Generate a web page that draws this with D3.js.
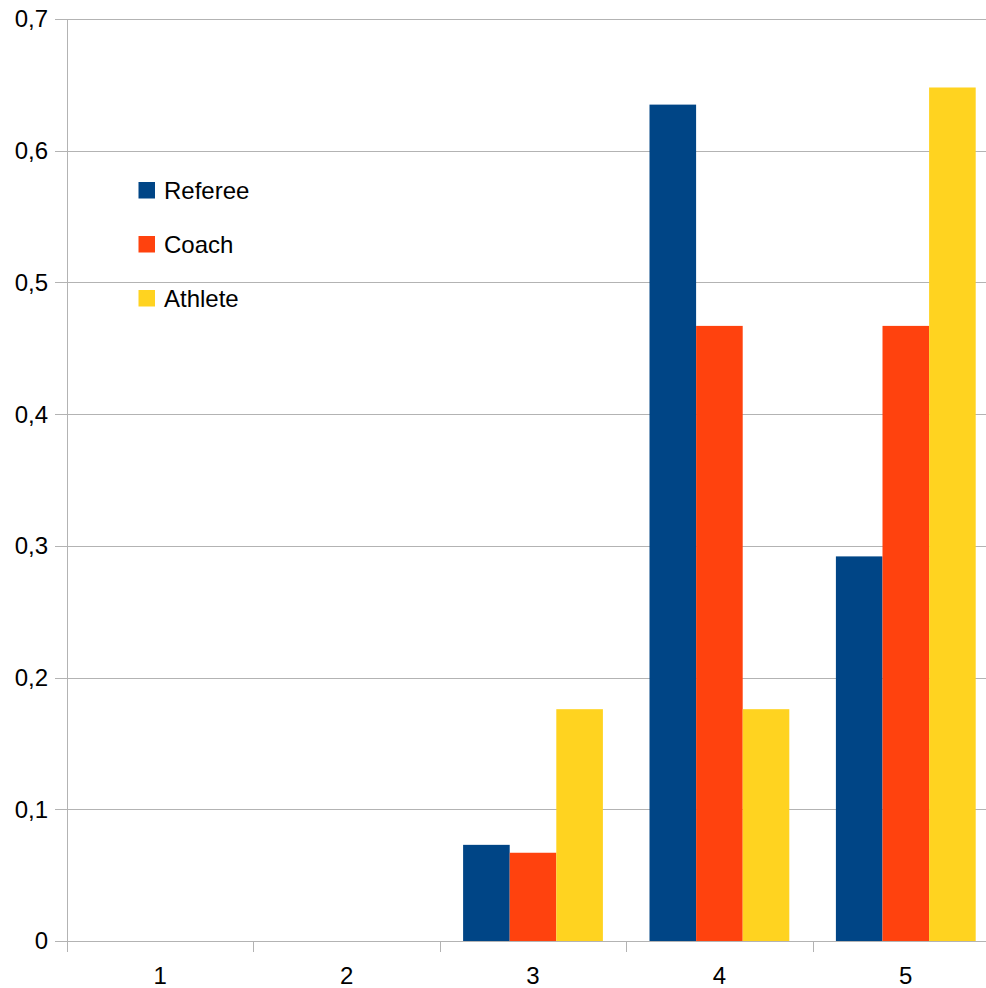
<!DOCTYPE html>
<html><head><meta charset="utf-8">
<script src="https://cdn.jsdelivr.net/npm/d3@7"></script>
<style>html,body{margin:0;padding:0;background:#fff;overflow:hidden}</style>
</head><body>
<svg id="c" width="986" height="988"></svg>
<script>
const categories = ["1","2","3","4","5"];
const seriesNames = ["Referee","Coach","Athlete"];
const referee = [0, 0, 0.073, 0.635, 0.292];
const coach   = [0, 0, 0.067, 0.467, 0.467];
const athlete = [0, 0, 0.176, 0.176, 0.648];
const yTicks = [0,0.1,0.2,0.3,0.4,0.5,0.6,0.7];
const colors = ["#004586","#ff420e","#ffd320"];

const series = [referee, coach, athlete];
const svg = d3.select("#c");
const L = 67, R = 999, T = 19, B = 941;
const font = "'Liberation Sans', Arial, sans-serif";

const x = d3.scaleBand().domain(categories).range([L, R]).paddingInner(0).paddingOuter(0);
const inner = d3.scaleBand().domain(seriesNames).range([0, x.bandwidth()]).paddingInner(0).paddingOuter(0.5);
const y = d3.scaleLinear().domain([0, 0.7]).range([B, T]);

// gridlines
svg.append("g").selectAll("line").data(yTicks).join("line")
  .attr("x1", L - 12).attr("x2", R)
  .attr("y1", d => Math.round(y(d)) + 0.5).attr("y2", d => Math.round(y(d)) + 0.5)
  .attr("stroke", "#b3b3b3").attr("stroke-width", 1);

// y axis line
svg.append("line").attr("x1", L + 0.5).attr("x2", L + 0.5).attr("y1", T).attr("y2", B + 11)
  .attr("stroke", "#b3b3b3");

// category ticks
svg.append("g").selectAll("line").data(categories.slice(1).concat(["end"])).join("line")
  .attr("x1", (d,i) => Math.round(L + (i+1)*x.step()) + 0.5)
  .attr("x2", (d,i) => Math.round(L + (i+1)*x.step()) + 0.5)
  .attr("y1", B).attr("y2", B + 11).attr("stroke", "#b3b3b3");

// bars
seriesNames.forEach((s, si) => {
  svg.append("g").selectAll("rect").data(series[si]).join("rect")
    .attr("x", (d,i) => x(categories[i]) + inner(s))
    .attr("width", inner.bandwidth())
    .attr("y", d => y(d))
    .attr("height", d => B - y(d))
    .attr("fill", colors[si]);
});

// y labels
svg.append("g").selectAll("text").data(yTicks).join("text")
  .attr("x", 48).attr("y", d => y(d)).attr("dy", "0.35em")
  .attr("text-anchor", "end").attr("font-family", font).attr("font-size", 24)
  .attr("fill", "#000").text(d => d3.format(".1f")(d).replace(".", ",").replace(/^0,0$/, "0"));

// x labels
svg.append("g").selectAll("text").data(categories).join("text")
  .attr("x", d => x(d) + x.bandwidth()/2).attr("y", 984)
  .attr("text-anchor", "middle").attr("font-family", font).attr("font-size", 24)
  .attr("fill", "#000").text(d => d);

// legend
const lg = svg.append("g");
seriesNames.forEach((s, i) => {
  const by = 198.5 + i*54;
  lg.append("rect").attr("x", 138.5).attr("y", by - 16.5).attr("width", 16.5).attr("height", 16.5).attr("fill", colors[i]);
  lg.append("text").attr("x", 164).attr("y", by).attr("font-family", font).attr("font-size", 24)
    .attr("fill", "#000").text(s);
});
</script>
</body></html>
